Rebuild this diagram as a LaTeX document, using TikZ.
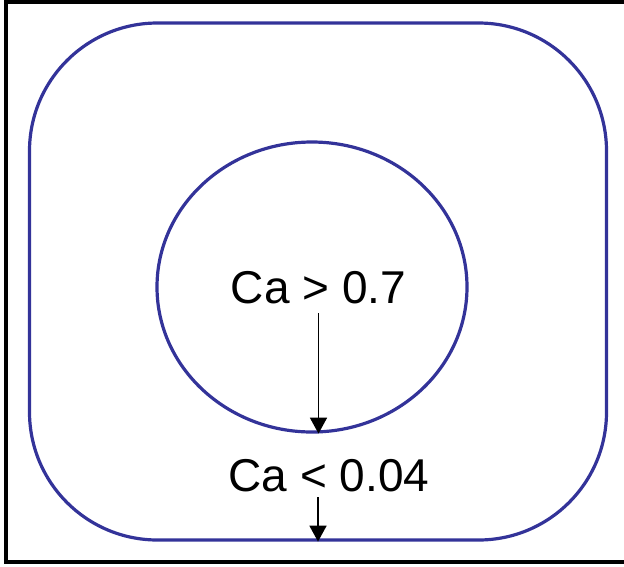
\documentclass[tikz,border=0pt]{standalone}
\usepackage{fontspec}
\setmainfont{Liberation Sans}
\usepackage{tikz}
\usetikzlibrary{shapes.geometric, arrows.meta, calc}

\definecolor{ringblue}{RGB}{51,51,153}

\begin{document}
\begin{tikzpicture}[x=1pt, y=-1pt, >={Triangle[length=16pt, width=17pt]}]
        % Styles
        \tikzstyle{ring} = [draw=ringblue, line width=3.2pt, inner sep=0pt]
        \tikzstyle{label} = [font=\fontsize{46}{54}\selectfont, inner sep=0pt, anchor=base]
        \tikzstyle{link} = [->, line width=1.8pt]

        \useasboundingbox (0,0) rectangle (624,566);
        \draw[line width=3.5pt] (6,2) rectangle (640,562);

        % Nodes
        \node[ring, rectangle, rounded corners=128pt, minimum width=577pt, minimum height=517pt] (outer) at (318,281.5) {};
        \node[ring, ellipse, minimum width=310pt, minimum height=290pt] (inner) at (312,287) {};
        \node[label] (hi) at (318.5,303) {Ca > 0.7};
        \node[label] (lo) at (329,491) {Ca < 0.04};

        % Paths
        \draw[link] ($(hi.base)+(0,10)$) -- (hi.base |- inner.south);
        \draw[link] (outer.south |- lo.base) ++(0,6) -- (outer.south);
    \end{tikzpicture}
\end{document}
